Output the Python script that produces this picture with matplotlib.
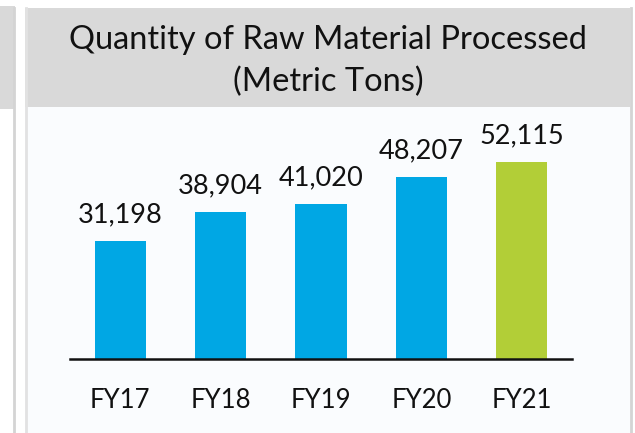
import matplotlib
matplotlib.use("Agg")
import matplotlib.pyplot as plt
from matplotlib.patches import Rectangle
from matplotlib.lines import Line2D

categories = ["FY17", "FY18", "FY19", "FY20", "FY21"]
values = [31198, 38904, 41020, 48207, 52115]
labels = ["31,198", "38,904", "41,020", "48,207", "52,115"]
colors = ["#00A7E4", "#00A7E4", "#00A7E4", "#00A7E4", "#B2CE37"]
title = "Quantity of Raw Material Processed\n(Metric Tons)"

W, H = 635, 433
fig = plt.figure(figsize=(W / 100, H / 100), dpi=100)
fig.patch.set_facecolor("white")

def px(x0, y0, x1, y1):
    return (x0 / W, 1 - y1 / H, (x1 - x0) / W, (y1 - y0) / H)

# panel background
l, b, w, h = px(25, 8, 630, H)
fig.patches.append(Rectangle((l, b), w, h, transform=fig.transFigure,
                             facecolor="#FAFCFE", edgecolor="none", zorder=0))
# left gray strip
l, b, w, h = px(0, 6, 15, 109)
fig.patches.append(Rectangle((l, b), w, h, transform=fig.transFigure,
                             facecolor="#D9D9D9", edgecolor="none", zorder=1))
# title box
l, b, w, h = px(25, 8, 630, 107)
fig.patches.append(Rectangle((l, b), w, h, transform=fig.transFigure,
                             facecolor="#D9D9D9", edgecolor="none", zorder=1))
# vertical border lines
for xp, c in [(14, "#D4D4D4"), (26, "#E2E2E2"), (631, "#D4D4D4")]:
    fig.lines.append(Line2D([xp / W, xp / W], [0, 1 - 8 / H], transform=fig.transFigure,
                            color=c, linewidth=2, zorder=2))

fig.text(328 / W, 1 - 61 / H, title, ha="center", va="center", fontsize=23.5,
         family="Lato", color="#111111", linespacing=1.45, zorder=3)

ax = fig.add_axes(px(70, 110, 572, 359))
ax.set_zorder(5)
ax.set_facecolor("none")
x = list(range(len(categories)))
bars = ax.bar(x, values, width=0.51, color=colors, zorder=2)
ax.set_xlim(-0.5, 4.5)
ax.set_ylim(0, 66000)
for xi, v, lab in zip(x, values, labels):
    ax.annotate(lab, (xi, v), xytext=(0, 10), textcoords="offset points",
                ha="center", va="bottom", fontsize=19.5, family="Lato", color="#111111")
ax.set_xticks(x)
ax.set_xticklabels(categories, fontsize=18.5, family="Lato", color="#111111")
ax.tick_params(axis="x", length=0, pad=21)
ax.set_yticks([])
for s in ["top", "right", "left"]:
    ax.spines[s].set_visible(False)
ax.spines["bottom"].set_linewidth(1.8)
ax.spines["bottom"].set_color("#111111")

fig.savefig("out.png", dpi=100)
